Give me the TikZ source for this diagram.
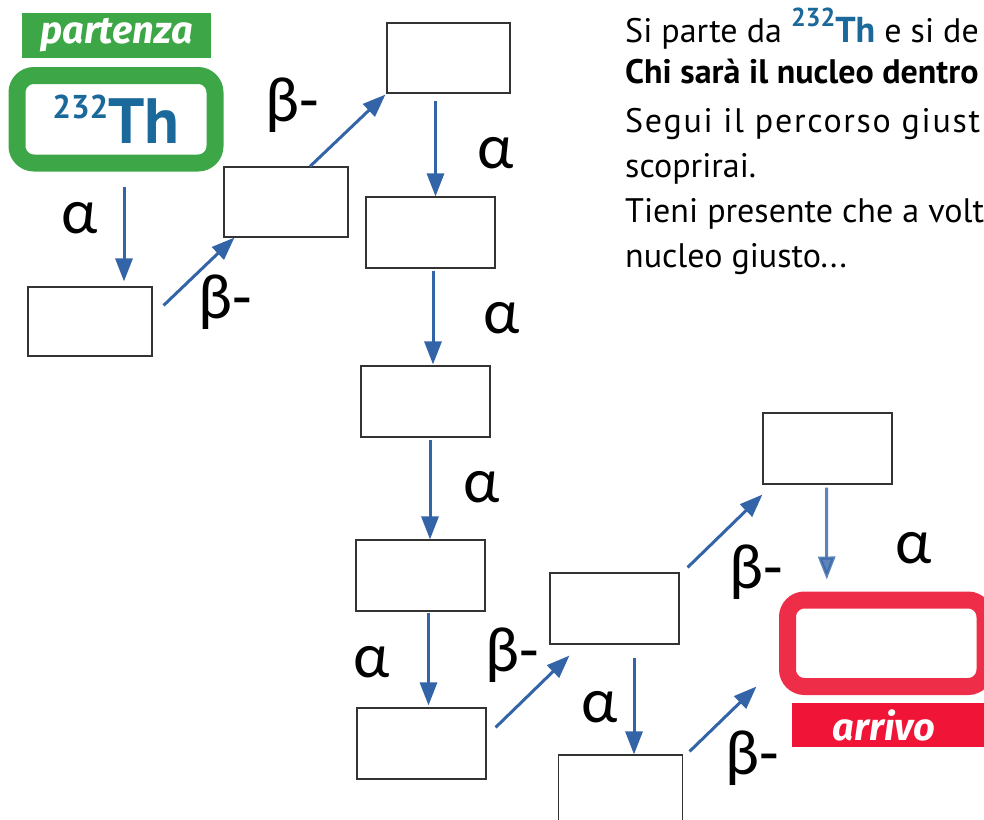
\documentclass[tikz,border=0pt]{standalone}
\usepackage{fontspec}
\setmainfont{PT Sans}
\newfontfamily\lblfont{Carlito}
\newfontfamily\tagfont{Fira Sans}
\usetikzlibrary{arrows.meta}

\definecolor{arrowblue}{RGB}{52,100,168}
\definecolor{startgreen}{RGB}{61,166,70}
\definecolor{endred}{RGB}{238,45,72}
\definecolor{arrivored}{RGB}{240,20,55}
\definecolor{thblue}{RGB}{27,104,155}

\tikzset{
  nucleo/.style={draw=black!80, line width=1.1pt, minimum width=129pt,
    minimum height=71pt, inner sep=0pt},
  decay/.style={draw=arrowblue, line width=3pt,
    -{Triangle[length=23pt,width=17pt]}},
  lbl/.style={font=\lblfont\fontsize{64}{64}\selectfont, inner sep=0pt},
  riga/.style={anchor=base west, inner sep=0pt,
    font=\fontsize{34}{40}\selectfont},
  tag/.style={fill=#1, text=white, inner sep=0pt,
    font=\tagfont\bfseries\itshape\fontsize{38}{38}\selectfont}
}

\begin{document}
\begin{tikzpicture}[x=1pt,y=-1pt]
\useasboundingbox (0,0) rectangle (984,819);
\clip (0,0) rectangle (984,819);

% partenza / arrivo
\node[tag=startgreen, minimum width=189pt, minimum height=45pt] (part) at (116.5,35.5) {partenza};
\node[draw=startgreen, line width=17pt, rounded corners=17pt, minimum width=198pt,
  minimum height=87.5pt, inner sep=0pt, text=thblue, font=\bfseries] (th) at (116,119.25)
  {\raisebox{25pt}{\fontsize{33}{33}\selectfont 232}\fontsize{64}{64}\selectfont Th};
\node[draw=endred, line width=17pt, rounded corners=17pt, minimum width=197.5pt,
  minimum height=86.5pt] (fine) at (886.25,643.25) {};
\node[tag=arrivored, minimum width=192pt, minimum height=44pt] (arrivo) at (888,725) {\hspace*{-8pt}arrivo};

% caselle vuote
\node[nucleo, minimum width=124pt, minimum height=69pt] (A) at (90,321.5) {};
\node[nucleo, minimum width=124pt, minimum height=70pt] (B) at (286,202) {};
\node[nucleo, minimum width=123pt, minimum height=70pt] (C) at (448.5,58) {};
\node[nucleo] (D) at (430.5,232.5) {};
\node[nucleo] (E) at (425.5,401.5) {};
\node[nucleo] (F) at (420.5,575.5) {};
\node[nucleo] (G) at (421.5,743.5) {};
\node[nucleo] (H) at (614.5,608.5) {};
\node[nucleo, minimum width=124pt] (I) at (620.5,790.5) {};
\node[nucleo] (J) at (827.5,448.5) {};

% decadimenti
\draw[decay] ([shift={(8,15)}]th.south) -- ([shift={(34,-5)}]A.north);
\draw[decay] ([shift={(11,19)}]A.north east) -- ([shift={(11,0)}]B.south west);
\draw[decay] ([shift={(24,0)}]B.north) -- ([shift={(-1,1)}]C.south west);
\draw[decay] ([shift={(-13,7)}]C.south) -- ([shift={(5,0)}]D.north);
\draw[decay] ([shift={(2.5,2)}]D.south) -- ([shift={(7.5,-1)}]E.north);
\draw[decay] ([shift={(4.5,2)}]E.south) -- ([shift={(9.5,0)}]F.north);
\draw[decay] ([shift={(8,1)}]F.south) -- ([shift={(7,-2)}]G.north);
\draw[decay] ([shift={(9,20)}]G.north east) -- ([shift={(20,11)}]H.south west);
\draw[decay] ([shift={(19.5,13)}]H.south) -- ([shift={(13.5,0)}]I.north);
\draw[decay] ([shift={(8,-5)}]H.north east) -- ([shift={(0,10)}]J.south west);
\draw[decay, opacity=.8] ([shift={(-1,3)}]J.south) -- ([shift={(-59.5,-12)}]fine.north);
\draw[decay] ([shift={(6.5,-3)}]I.north east) -- ([shift={(-22.5,-8.5)}]fine.south west);

% etichette
\node[lbl] (a1) at (80,218) {α};
\node[lbl] (b1) at (292,105) {β-};
\node[lbl] (b2) at (225,302) {β-};
\node[lbl] (a2) at (496,153) {α};
\node[lbl] (a3) at (502,318) {α};
\node[lbl] (a4) at (482,487) {α};
\node[lbl] (a5) at (372,662) {α};
\node[lbl] (b3) at (512,655) {β-};
\node[lbl] (a6) at (600,707) {α};
\node[lbl] (b4) at (756,572) {β-};
\node[lbl] (a7) at (914,548) {α};
\node[lbl] (b5) at (752,758) {β-};

% testo
\node[riga] (l1) at (625,42) {Si parte da {\color{thblue}\bfseries\raisebox{16pt}{\fontsize{26}{26}\selectfont 232}\fontsize{36}{40}\selectfont Th} e si de};
\node[riga, font=\bfseries\fontsize{34}{40}\selectfont] (l2) at (625,83) {Chi sarà il nucleo dentro};
\node[riga] (l3) at (625,132) {\addfontfeatures{LetterSpace=5}Segui il percorso giust};
\node[riga] (l4) at (625,177) {scoprirai.};
\node[riga] (l5) at (625,222) {Tieni presente che a volt};
\node[riga] (l6) at (625,267) {nucleo giusto...};
\end{tikzpicture}
\end{document}
